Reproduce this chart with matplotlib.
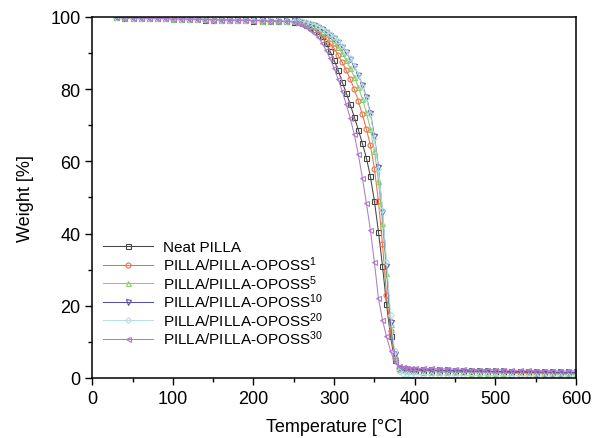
import matplotlib
matplotlib.use('Agg')
from matplotlib import pyplot as plt
from matplotlib.ticker import MultipleLocator

plt.rcParams['font.family'] = ['Liberation Sans', 'DejaVu Sans']
plt.rcParams['mathtext.default'] = 'regular'

# temperature grid [°C]
temperature = [30, 40, 50, 60, 70, 80, 90, 100, 110, 120, 130, 140, 150, 160, 170, 180, 190, 200, 210, 220, 230, 240, 250,
               255, 260, 265, 270, 275, 280, 285, 290, 295, 300, 305, 310, 315, 320, 325, 330, 335, 340, 345, 350,
               355, 360, 365, 370, 375, 380, 385, 390, 395, 400,
               410, 420, 430, 440, 450, 460, 470, 480, 490, 500, 510, 520, 530, 540, 550, 560, 570, 580, 590, 600]

# weight [%]
neat = [99.9, 99.8, 99.8, 99.7, 99.7, 99.6, 99.6, 99.5, 99.5, 99.4, 99.4, 99.3, 99.3, 99.2, 99.2, 99.1, 99.1, 99.0, 99.0, 98.9, 98.9, 98.8, 98.7,
        98.5, 98.2, 97.8, 97.2, 96.6, 96.0, 94.7, 92.8, 90.5, 88.0, 85.3, 82.0, 79.0, 75.8, 72.3, 68.8, 65.0, 61.0, 55.8, 49.0,
        40.5, 31.0, 20.5, 11.5, 5.0, 2.8, 2.5, 2.4, 2.3, 2.2,
        2.1, 2.0, 2.0, 1.9, 1.9, 1.8, 1.8, 1.7, 1.7, 1.6, 1.6, 1.5, 1.5, 1.5, 1.4, 1.4, 1.4, 1.3, 1.3, 1.3]
oposs1 = [99.9, 99.8, 99.8, 99.7, 99.7, 99.6, 99.6, 99.5, 99.5, 99.4, 99.4, 99.3, 99.3, 99.3, 99.2, 99.2, 99.1, 99.1, 99.0, 99.0, 98.9, 98.9, 98.8,
          98.6, 98.4, 98.1, 97.7, 97.1, 96.3, 95.2, 94.0, 92.7, 91.3, 89.5, 87.5, 85.2, 82.8, 80.0, 76.8, 73.0, 69.0, 64.5, 58.0,
          49.0, 37.0, 23.0, 13.0, 5.5, 2.8, 2.4, 2.3, 2.2, 2.2,
          2.1, 2.1, 2.0, 2.0, 1.9, 1.9, 1.9, 1.8, 1.8, 1.7, 1.7, 1.7, 1.6, 1.6, 1.6, 1.5, 1.5, 1.5, 1.4, 1.4]
oposs5 = [99.9, 99.8, 99.8, 99.7, 99.7, 99.6, 99.6, 99.5, 99.5, 99.5, 99.4, 99.4, 99.3, 99.3, 99.2, 99.2, 99.1, 99.1, 99.0, 99.0, 98.9, 98.9, 98.8,
          98.7, 98.5, 98.3, 97.9, 97.5, 96.9, 96.1, 95.2, 94.2, 93.0, 91.6, 90.0, 88.0, 85.8, 83.4, 80.6, 77.4, 73.6, 69.0, 63.0,
          54.5, 43.0, 29.0, 15.0, 6.0, 2.5, 2.1, 1.9, 1.8, 1.8,
          1.7, 1.7, 1.6, 1.6, 1.5, 1.5, 1.4, 1.4, 1.4, 1.3, 1.3, 1.2, 1.2, 1.2, 1.1, 1.1, 1.1, 1.0, 1.0, 1.0]
oposs10 = [99.9, 99.8, 99.8, 99.7, 99.7, 99.6, 99.6, 99.6, 99.5, 99.5, 99.4, 99.4, 99.3, 99.3, 99.2, 99.2, 99.2, 99.1, 99.1, 99.0, 99.0, 98.9, 98.9,
           98.8, 98.6, 98.4, 98.1, 97.7, 97.2, 96.6, 95.9, 95.1, 94.2, 93.2, 91.8, 90.2, 88.4, 86.4, 84.0, 81.2, 77.8, 73.5, 67.0,
           58.5, 46.0, 31.0, 15.5, 6.5, 2.8, 2.5, 2.4, 2.3, 2.3,
           2.2, 2.2, 2.1, 2.1, 2.0, 2.0, 1.9, 1.9, 1.9, 1.8, 1.8, 1.7, 1.7, 1.7, 1.6, 1.6, 1.6, 1.5, 1.5, 1.5]
oposs20 = [99.9, 99.9, 99.8, 99.8, 99.7, 99.7, 99.6, 99.6, 99.5, 99.5, 99.5, 99.4, 99.4, 99.3, 99.3, 99.3, 99.2, 99.2, 99.1, 99.1, 99.1, 99.0, 99.0,
           98.9, 98.8, 98.6, 98.3, 97.9, 97.4, 96.8, 96.1, 95.3, 94.4, 93.3, 92.0, 90.4, 88.6, 86.5, 84.0, 81.0, 77.5, 73.0, 66.5,
           58.0, 46.5, 32.0, 17.5, 7.5, 2.0, 1.2, 1.0, 0.9, 0.9,
           0.9, 0.8, 0.8, 0.8, 0.8, 0.7, 0.7, 0.7, 0.7, 0.6, 0.6, 0.6, 0.6, 0.6, 0.5, 0.5, 0.5, 0.5, 0.5, 0.5]
oposs30 = [99.9, 99.8, 99.8, 99.7, 99.7, 99.6, 99.6, 99.5, 99.5, 99.4, 99.4, 99.3, 99.3, 99.2, 99.2, 99.1, 99.1, 99.0, 99.0, 98.9, 98.9, 98.8, 98.6,
           98.3, 97.8, 97.2, 96.4, 95.5, 94.5, 92.8, 90.8, 88.5, 85.8, 82.8, 79.5, 75.8, 72.0, 67.5, 62.0, 55.5, 48.5, 41.0, 32.0,
           22.0, 16.0, 11.5, 7.5, 4.5, 3.2, 2.9, 2.8, 2.7, 2.7,
           2.6, 2.6, 2.5, 2.5, 2.4, 2.4, 2.3, 2.3, 2.3, 2.2, 2.2, 2.1, 2.1, 2.1, 2.0, 2.0, 2.0, 1.9, 1.9, 1.9]

series = [
    (neat, 'Neat PILLA', '#454545', 's'),
    (oposs1, 'PILLA/PILLA-OPOSS$^{1}$', '#ef6e47', 'o'),
    (oposs5, 'PILLA/PILLA-OPOSS$^{5}$', '#8ccb6c', '^'),
    (oposs10, 'PILLA/PILLA-OPOSS$^{10}$', '#5252a6', 'v'),
    (oposs20, 'PILLA/PILLA-OPOSS$^{20}$', '#b6e1e0', 'D'),
    (oposs30, 'PILLA/PILLA-OPOSS$^{30}$', '#ad7ccb', '<'),
]

figure = plt.figure(figsize=(5.95, 4.39), dpi=100)
ax = figure.add_axes([0.155, 0.137, 0.813, 0.822])

for values, label, color, marker in series:
    ax.plot(temperature, values, color=color, lw=0.75, marker=marker,
            ms=3.6 if marker != 'D' else 3.0, mfc='none', mec=color, mew=0.8, label=label)

ax.set_xlim(0, 600)
ax.set_ylim(0, 100)
ax.xaxis.set_major_locator(MultipleLocator(100))
ax.xaxis.set_minor_locator(MultipleLocator(50))
ax.yaxis.set_major_locator(MultipleLocator(20))
ax.yaxis.set_minor_locator(MultipleLocator(10))
ax.tick_params(which='both', direction='out', top=False, right=False, labelsize=13, width=1)
ax.tick_params(which='major', length=5)
ax.tick_params(which='minor', length=3)
for spine in ax.spines.values():
    spine.set_linewidth(1.1)

ax.set_xlabel('Temperature [°C]', fontsize=13, labelpad=8)
ax.set_ylabel('Weight [%]', fontsize=13, labelpad=12)

# legend rows tight, no frame, lower left
ax.legend(loc='lower left', bbox_to_anchor=(0.0, 0.055), frameon=False, fontsize=11,
          handlelength=3.3, handletextpad=0.6, labelspacing=0.0, numpoints=1, borderaxespad=0.3)

figure.savefig('out.png', dpi=100)
